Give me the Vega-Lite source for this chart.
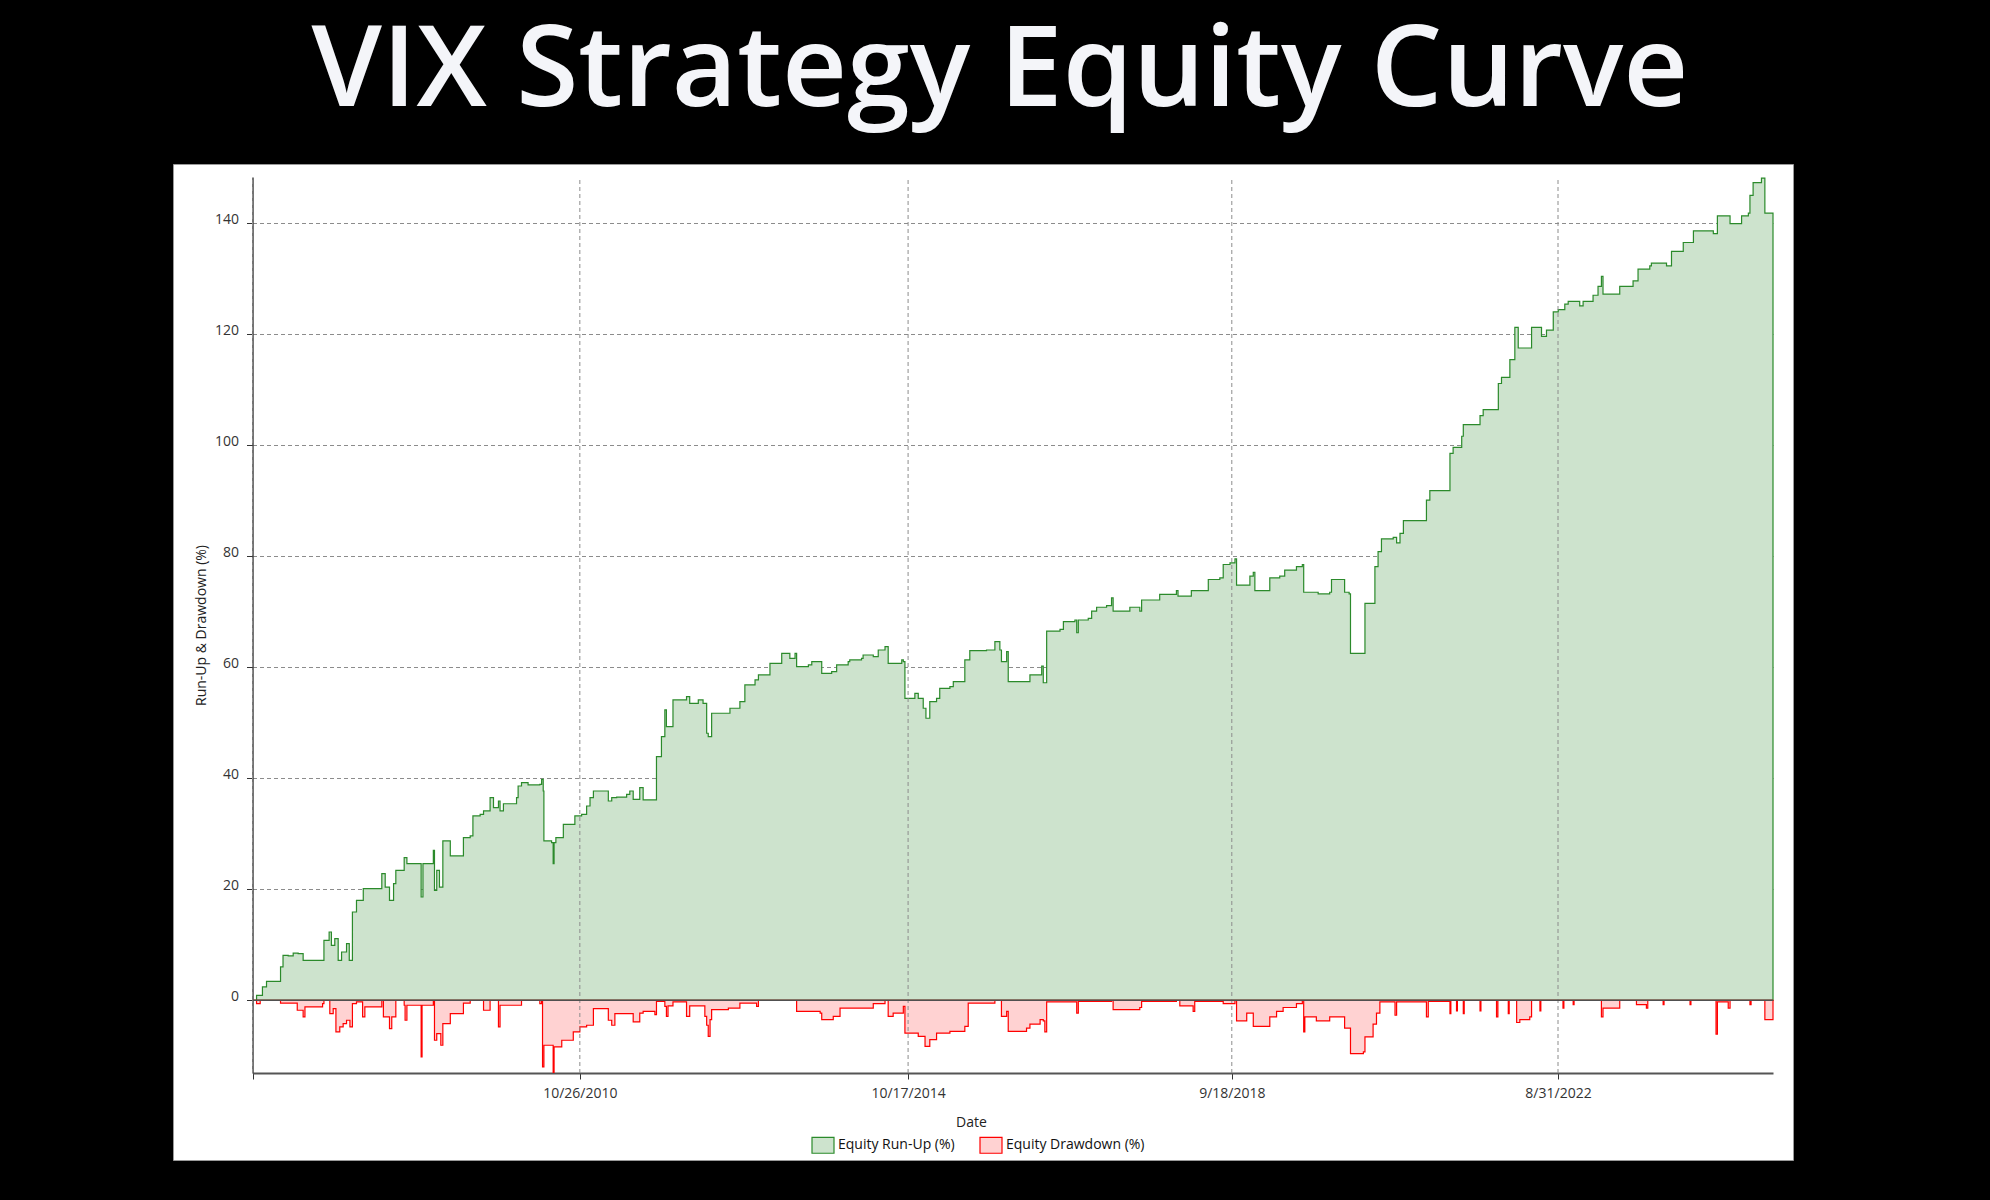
{
  "$schema": "https://vega.github.io/schema/vega-lite/v6.json",
  "width": 1620,
  "height": 996,
  "autosize": {"type": "none"},
  "padding": {"left": 173, "top": 164, "right": 197, "bottom": 40},
  "background": "black",
  "title": {
    "text": "VIX Strategy Equity Curve",
    "color": "#f4f5f9",
    "font": "Open Sans",
    "fontSize": 113,
    "fontWeight": 600,
    "anchor": "middle",
    "baseline": "alphabetic",
    "offset": -55,
    "dx": 17
  },
  "datasets": {
    "runup": [
      {"Date": "2006-11-08", "Value": 0},
      {"Date": "2006-11-26", "Value": 0.9},
      {"Date": "2006-12-22", "Value": 2.4},
      {"Date": "2007-01-09", "Value": 3.4},
      {"Date": "2007-03-12", "Value": 6.0},
      {"Date": "2007-03-23", "Value": 8.1},
      {"Date": "2007-04-15", "Value": 8.0},
      {"Date": "2007-05-07", "Value": 8.5},
      {"Date": "2007-05-29", "Value": 8.4},
      {"Date": "2007-06-20", "Value": 7.2},
      {"Date": "2007-09-20", "Value": 10.8},
      {"Date": "2007-10-13", "Value": 12.3},
      {"Date": "2007-10-23", "Value": 9.9},
      {"Date": "2007-11-07", "Value": 11.1},
      {"Date": "2007-11-22", "Value": 7.2},
      {"Date": "2007-12-07", "Value": 8.7},
      {"Date": "2007-12-29", "Value": 10.2},
      {"Date": "2008-01-10", "Value": 7.2},
      {"Date": "2008-01-24", "Value": 15.9},
      {"Date": "2008-02-11", "Value": 18.0},
      {"Date": "2008-03-12", "Value": 20.1},
      {"Date": "2008-06-02", "Value": 22.8},
      {"Date": "2008-06-17", "Value": 20.4},
      {"Date": "2008-07-06", "Value": 18.0},
      {"Date": "2008-07-24", "Value": 21.0},
      {"Date": "2008-08-03", "Value": 23.4},
      {"Date": "2008-09-09", "Value": 25.7},
      {"Date": "2008-09-21", "Value": 24.6},
      {"Date": "2008-11-23", "Value": 18.6},
      {"Date": "2008-12-01", "Value": 24.6},
      {"Date": "2009-01-16", "Value": 27.0},
      {"Date": "2009-01-21", "Value": 19.8},
      {"Date": "2009-01-31", "Value": 23.4},
      {"Date": "2009-02-12", "Value": 20.4},
      {"Date": "2009-02-27", "Value": 28.7},
      {"Date": "2009-04-01", "Value": 26.0},
      {"Date": "2009-05-29", "Value": 29.3},
      {"Date": "2009-06-28", "Value": 29.6},
      {"Date": "2009-07-10", "Value": 33.2},
      {"Date": "2009-08-11", "Value": 33.5},
      {"Date": "2009-08-26", "Value": 34.1},
      {"Date": "2009-09-24", "Value": 36.5},
      {"Date": "2009-10-09", "Value": 34.7},
      {"Date": "2009-10-31", "Value": 35.9},
      {"Date": "2009-11-07", "Value": 34.1},
      {"Date": "2009-11-22", "Value": 35.4},
      {"Date": "2010-01-19", "Value": 36.5},
      {"Date": "2010-01-26", "Value": 38.6},
      {"Date": "2010-02-10", "Value": 39.2},
      {"Date": "2010-03-11", "Value": 38.8},
      {"Date": "2010-05-02", "Value": 38.9},
      {"Date": "2010-05-10", "Value": 39.8},
      {"Date": "2010-05-17", "Value": 37.7},
      {"Date": "2010-05-20", "Value": 28.7},
      {"Date": "2010-06-23", "Value": 28.4},
      {"Date": "2010-06-30", "Value": 24.6},
      {"Date": "2010-07-04", "Value": 28.4},
      {"Date": "2010-07-12", "Value": 29.3},
      {"Date": "2010-08-14", "Value": 31.7},
      {"Date": "2010-10-04", "Value": 33.2},
      {"Date": "2010-11-03", "Value": 33.5},
      {"Date": "2010-11-25", "Value": 35.0},
      {"Date": "2010-12-10", "Value": 36.5},
      {"Date": "2010-12-25", "Value": 37.7},
      {"Date": "2011-03-01", "Value": 35.9},
      {"Date": "2011-03-16", "Value": 36.5},
      {"Date": "2011-04-07", "Value": 36.6},
      {"Date": "2011-05-21", "Value": 37.1},
      {"Date": "2011-06-04", "Value": 37.7},
      {"Date": "2011-06-19", "Value": 36.2},
      {"Date": "2011-07-18", "Value": 38.3},
      {"Date": "2011-08-02", "Value": 36.1},
      {"Date": "2011-09-30", "Value": 43.9},
      {"Date": "2011-10-22", "Value": 47.5},
      {"Date": "2011-11-06", "Value": 52.3},
      {"Date": "2011-11-13", "Value": 49.3},
      {"Date": "2011-12-12", "Value": 54.1},
      {"Date": "2012-02-10", "Value": 54.7},
      {"Date": "2012-02-24", "Value": 53.5},
      {"Date": "2012-04-02", "Value": 54.1},
      {"Date": "2012-04-23", "Value": 53.5},
      {"Date": "2012-05-09", "Value": 48.1},
      {"Date": "2012-05-16", "Value": 47.5},
      {"Date": "2012-05-31", "Value": 51.7},
      {"Date": "2012-08-20", "Value": 52.6},
      {"Date": "2012-10-03", "Value": 53.8},
      {"Date": "2012-10-25", "Value": 56.8},
      {"Date": "2012-12-09", "Value": 57.7},
      {"Date": "2012-12-24", "Value": 58.6},
      {"Date": "2013-02-13", "Value": 60.7},
      {"Date": "2013-04-06", "Value": 62.5},
      {"Date": "2013-05-12", "Value": 61.6},
      {"Date": "2013-06-04", "Value": 62.5},
      {"Date": "2013-06-11", "Value": 60.1},
      {"Date": "2013-08-02", "Value": 60.4},
      {"Date": "2013-08-17", "Value": 61.0},
      {"Date": "2013-09-30", "Value": 58.9},
      {"Date": "2013-11-13", "Value": 59.2},
      {"Date": "2013-12-05", "Value": 60.4},
      {"Date": "2014-01-25", "Value": 61.0},
      {"Date": "2014-02-01", "Value": 61.3},
      {"Date": "2014-03-25", "Value": 61.6},
      {"Date": "2014-04-01", "Value": 62.2},
      {"Date": "2014-05-16", "Value": 61.9},
      {"Date": "2014-06-07", "Value": 63.1},
      {"Date": "2014-07-07", "Value": 63.7},
      {"Date": "2014-07-21", "Value": 60.7},
      {"Date": "2014-09-19", "Value": 61.3},
      {"Date": "2014-09-26", "Value": 61.0},
      {"Date": "2014-10-03", "Value": 54.4},
      {"Date": "2014-11-16", "Value": 55.3},
      {"Date": "2014-12-01", "Value": 54.4},
      {"Date": "2014-12-23", "Value": 52.6},
      {"Date": "2015-01-04", "Value": 50.8},
      {"Date": "2015-01-21", "Value": 53.8},
      {"Date": "2015-02-20", "Value": 54.4},
      {"Date": "2015-03-06", "Value": 56.2},
      {"Date": "2015-04-20", "Value": 56.5},
      {"Date": "2015-05-05", "Value": 57.4},
      {"Date": "2015-06-25", "Value": 61.3},
      {"Date": "2015-07-17", "Value": 63.0},
      {"Date": "2015-09-29", "Value": 63.1},
      {"Date": "2015-11-05", "Value": 64.6},
      {"Date": "2015-11-27", "Value": 63.1},
      {"Date": "2015-12-04", "Value": 61.0},
      {"Date": "2015-12-27", "Value": 62.8},
      {"Date": "2016-01-03", "Value": 57.4},
      {"Date": "2016-04-08", "Value": 58.6},
      {"Date": "2016-05-30", "Value": 60.2},
      {"Date": "2016-06-06", "Value": 57.2},
      {"Date": "2016-06-21", "Value": 66.5},
      {"Date": "2016-08-19", "Value": 66.8},
      {"Date": "2016-09-03", "Value": 68.2},
      {"Date": "2016-10-24", "Value": 68.5},
      {"Date": "2016-11-01", "Value": 66.2},
      {"Date": "2016-11-08", "Value": 68.5},
      {"Date": "2016-12-22", "Value": 68.8},
      {"Date": "2017-01-06", "Value": 70.1},
      {"Date": "2017-01-28", "Value": 70.8},
      {"Date": "2017-03-13", "Value": 71.1},
      {"Date": "2017-04-04", "Value": 72.5},
      {"Date": "2017-04-11", "Value": 70.1},
      {"Date": "2017-06-24", "Value": 70.8},
      {"Date": "2017-08-07", "Value": 70.1},
      {"Date": "2017-08-15", "Value": 72.1},
      {"Date": "2017-11-03", "Value": 73.1},
      {"Date": "2018-01-16", "Value": 73.8},
      {"Date": "2018-01-23", "Value": 72.8},
      {"Date": "2018-03-23", "Value": 73.8},
      {"Date": "2018-06-06", "Value": 75.8},
      {"Date": "2018-07-27", "Value": 76.1},
      {"Date": "2018-08-11", "Value": 78.5},
      {"Date": "2018-09-10", "Value": 78.8},
      {"Date": "2018-10-02", "Value": 79.5},
      {"Date": "2018-10-09", "Value": 74.8},
      {"Date": "2018-12-07", "Value": 76.4},
      {"Date": "2018-12-22", "Value": 77.1},
      {"Date": "2018-12-29", "Value": 73.8},
      {"Date": "2019-03-05", "Value": 76.1},
      {"Date": "2019-04-18", "Value": 76.4},
      {"Date": "2019-05-10", "Value": 77.5},
      {"Date": "2019-07-01", "Value": 78.1},
      {"Date": "2019-07-27", "Value": 78.5},
      {"Date": "2019-08-02", "Value": 73.5},
      {"Date": "2019-10-05", "Value": 73.2},
      {"Date": "2019-11-25", "Value": 73.5},
      {"Date": "2019-12-03", "Value": 75.8},
      {"Date": "2020-01-30", "Value": 73.5},
      {"Date": "2020-02-19", "Value": 73.2},
      {"Date": "2020-02-25", "Value": 62.5},
      {"Date": "2020-04-29", "Value": 71.5},
      {"Date": "2020-06-12", "Value": 78.1},
      {"Date": "2020-06-26", "Value": 80.8},
      {"Date": "2020-07-11", "Value": 83.1},
      {"Date": "2020-09-01", "Value": 83.4},
      {"Date": "2020-09-16", "Value": 82.4},
      {"Date": "2020-10-01", "Value": 84.1},
      {"Date": "2020-10-16", "Value": 86.4},
      {"Date": "2021-01-26", "Value": 90.1},
      {"Date": "2021-02-10", "Value": 91.8},
      {"Date": "2021-05-10", "Value": 98.5},
      {"Date": "2021-05-24", "Value": 99.6},
      {"Date": "2021-07-01", "Value": 101.6},
      {"Date": "2021-07-08", "Value": 103.7},
      {"Date": "2021-09-20", "Value": 105.3},
      {"Date": "2021-10-04", "Value": 106.4},
      {"Date": "2021-12-10", "Value": 111.1},
      {"Date": "2021-12-24", "Value": 112.2},
      {"Date": "2022-01-30", "Value": 115.4},
      {"Date": "2022-02-21", "Value": 121.2},
      {"Date": "2022-03-08", "Value": 117.5},
      {"Date": "2022-05-06", "Value": 121.2},
      {"Date": "2022-06-19", "Value": 119.6},
      {"Date": "2022-07-11", "Value": 120.7},
      {"Date": "2022-08-10", "Value": 124.0},
      {"Date": "2022-09-01", "Value": 124.4},
      {"Date": "2022-09-30", "Value": 125.4},
      {"Date": "2022-10-15", "Value": 125.9},
      {"Date": "2022-12-05", "Value": 125.1},
      {"Date": "2022-12-20", "Value": 125.9},
      {"Date": "2023-02-02", "Value": 127.0},
      {"Date": "2023-02-24", "Value": 128.6},
      {"Date": "2023-03-11", "Value": 130.4},
      {"Date": "2023-03-18", "Value": 127.2},
      {"Date": "2023-05-31", "Value": 128.6},
      {"Date": "2023-07-29", "Value": 129.6},
      {"Date": "2023-08-20", "Value": 131.7},
      {"Date": "2023-10-11", "Value": 132.3},
      {"Date": "2023-10-18", "Value": 132.8},
      {"Date": "2023-12-24", "Value": 132.3},
      {"Date": "2024-01-15", "Value": 134.9},
      {"Date": "2024-03-07", "Value": 136.5},
      {"Date": "2024-04-21", "Value": 138.6},
      {"Date": "2024-07-18", "Value": 138.1},
      {"Date": "2024-08-05", "Value": 141.3},
      {"Date": "2024-09-30", "Value": 139.9},
      {"Date": "2024-11-20", "Value": 141.3},
      {"Date": "2024-12-20", "Value": 141.8},
      {"Date": "2024-12-27", "Value": 145.0},
      {"Date": "2025-01-10", "Value": 147.3},
      {"Date": "2025-02-16", "Value": 148.1},
      {"Date": "2025-03-03", "Value": 141.8},
      {"Date": "2025-04-08", "Value": 141.6}
    ],
    "drawdown": [
      {"Date": "2006-11-08", "Value": 0},
      {"Date": "2006-11-26", "Value": -0.6},
      {"Date": "2006-12-12", "Value": 0},
      {"Date": "2007-03-12", "Value": -0.5},
      {"Date": "2007-05-25", "Value": -1.8},
      {"Date": "2007-06-20", "Value": -3.0},
      {"Date": "2007-06-28", "Value": -1.2},
      {"Date": "2007-09-14", "Value": -0.6},
      {"Date": "2007-09-20", "Value": 0},
      {"Date": "2007-10-16", "Value": -2.4},
      {"Date": "2007-10-31", "Value": -1.5},
      {"Date": "2007-11-12", "Value": -5.7},
      {"Date": "2007-11-29", "Value": -4.8},
      {"Date": "2007-12-14", "Value": -4.2},
      {"Date": "2007-12-29", "Value": -3.6},
      {"Date": "2008-01-13", "Value": -4.8},
      {"Date": "2008-01-24", "Value": -0.6},
      {"Date": "2008-02-11", "Value": -0.3},
      {"Date": "2008-03-09", "Value": -3.0},
      {"Date": "2008-03-19", "Value": -1.2},
      {"Date": "2008-06-02", "Value": 0},
      {"Date": "2008-06-09", "Value": -3.0},
      {"Date": "2008-07-06", "Value": -5.1},
      {"Date": "2008-07-16", "Value": -3.0},
      {"Date": "2008-08-03", "Value": 0},
      {"Date": "2008-09-09", "Value": -0.9},
      {"Date": "2008-09-13", "Value": -3.6},
      {"Date": "2008-09-21", "Value": -0.9},
      {"Date": "2008-11-23", "Value": -10.2},
      {"Date": "2008-11-27", "Value": -0.9},
      {"Date": "2009-01-16", "Value": 0},
      {"Date": "2009-01-21", "Value": -7.2},
      {"Date": "2009-01-31", "Value": -6.0},
      {"Date": "2009-02-18", "Value": -8.1},
      {"Date": "2009-02-27", "Value": -4.2},
      {"Date": "2009-04-01", "Value": -2.4},
      {"Date": "2009-05-29", "Value": -0.5},
      {"Date": "2009-06-28", "Value": 0},
      {"Date": "2009-08-26", "Value": -1.8},
      {"Date": "2009-09-24", "Value": 0},
      {"Date": "2009-10-31", "Value": -4.8},
      {"Date": "2009-11-07", "Value": -0.9},
      {"Date": "2010-02-10", "Value": 0},
      {"Date": "2010-05-02", "Value": -0.6},
      {"Date": "2010-05-10", "Value": 0},
      {"Date": "2010-05-14", "Value": -12.0},
      {"Date": "2010-05-20", "Value": -8.1},
      {"Date": "2010-06-30", "Value": -13.0},
      {"Date": "2010-07-04", "Value": -8.4},
      {"Date": "2010-08-07", "Value": -7.2},
      {"Date": "2010-09-27", "Value": -5.7},
      {"Date": "2010-10-26", "Value": -4.8},
      {"Date": "2010-11-25", "Value": -4.5},
      {"Date": "2010-12-25", "Value": -1.5},
      {"Date": "2011-03-01", "Value": -3.6},
      {"Date": "2011-03-16", "Value": -4.5},
      {"Date": "2011-03-30", "Value": -2.4},
      {"Date": "2011-06-19", "Value": -3.9},
      {"Date": "2011-07-18", "Value": -2.3},
      {"Date": "2011-08-02", "Value": -2.0},
      {"Date": "2011-09-23", "Value": -2.6},
      {"Date": "2011-09-30", "Value": -0.2},
      {"Date": "2011-11-06", "Value": -1.1},
      {"Date": "2011-11-13", "Value": -2.9},
      {"Date": "2011-11-20", "Value": -1.0},
      {"Date": "2011-12-12", "Value": -0.3},
      {"Date": "2012-02-10", "Value": -2.9},
      {"Date": "2012-02-24", "Value": -1.0},
      {"Date": "2012-05-01", "Value": -2.9},
      {"Date": "2012-05-09", "Value": -4.5},
      {"Date": "2012-05-16", "Value": -6.5},
      {"Date": "2012-05-24", "Value": -3.5},
      {"Date": "2012-05-31", "Value": -1.7},
      {"Date": "2012-08-13", "Value": -1.4},
      {"Date": "2012-10-03", "Value": -0.5},
      {"Date": "2012-12-16", "Value": -1.1},
      {"Date": "2012-12-24", "Value": 0},
      {"Date": "2013-06-11", "Value": -2.0},
      {"Date": "2013-09-23", "Value": -2.3},
      {"Date": "2013-09-30", "Value": -3.5},
      {"Date": "2013-11-20", "Value": -2.9},
      {"Date": "2013-12-20", "Value": -1.4},
      {"Date": "2014-05-16", "Value": -0.6},
      {"Date": "2014-07-07", "Value": 0},
      {"Date": "2014-07-21", "Value": -2.9},
      {"Date": "2014-08-12", "Value": -2.3},
      {"Date": "2014-09-26", "Value": -1.1},
      {"Date": "2014-10-03", "Value": -5.9},
      {"Date": "2014-12-01", "Value": -6.5},
      {"Date": "2014-12-31", "Value": -8.3},
      {"Date": "2015-01-21", "Value": -7.1},
      {"Date": "2015-02-20", "Value": -5.9},
      {"Date": "2015-04-20", "Value": -5.6},
      {"Date": "2015-06-25", "Value": -4.7},
      {"Date": "2015-07-10", "Value": -0.5},
      {"Date": "2015-11-05", "Value": 0},
      {"Date": "2015-12-04", "Value": -2.9},
      {"Date": "2015-12-27", "Value": -2.0},
      {"Date": "2016-01-03", "Value": -5.6},
      {"Date": "2016-03-24", "Value": -5.0},
      {"Date": "2016-04-08", "Value": -4.3},
      {"Date": "2016-05-23", "Value": -3.5},
      {"Date": "2016-06-06", "Value": -3.7},
      {"Date": "2016-06-13", "Value": -5.7},
      {"Date": "2016-06-21", "Value": -0.3},
      {"Date": "2016-11-01", "Value": -2.3},
      {"Date": "2016-11-08", "Value": -0.2},
      {"Date": "2017-04-04", "Value": 0},
      {"Date": "2017-04-11", "Value": -1.7},
      {"Date": "2017-08-07", "Value": -1.3},
      {"Date": "2017-08-15", "Value": -0.2},
      {"Date": "2018-01-16", "Value": 0},
      {"Date": "2018-01-31", "Value": -1.0},
      {"Date": "2018-03-31", "Value": -2.0},
      {"Date": "2018-04-07", "Value": -0.2},
      {"Date": "2018-08-11", "Value": -0.6},
      {"Date": "2018-10-02", "Value": 0},
      {"Date": "2018-10-09", "Value": -3.7},
      {"Date": "2018-11-23", "Value": -2.3},
      {"Date": "2018-12-22", "Value": -4.7},
      {"Date": "2019-03-05", "Value": -3.0},
      {"Date": "2019-04-04", "Value": -2.0},
      {"Date": "2019-05-03", "Value": -1.3},
      {"Date": "2019-07-01", "Value": -0.6},
      {"Date": "2019-07-27", "Value": 0},
      {"Date": "2019-08-02", "Value": -5.7},
      {"Date": "2019-08-07", "Value": -3.0},
      {"Date": "2019-09-27", "Value": -3.7},
      {"Date": "2019-11-25", "Value": -3.0},
      {"Date": "2020-01-30", "Value": -5.0},
      {"Date": "2020-02-25", "Value": -9.6},
      {"Date": "2020-04-22", "Value": -9.3},
      {"Date": "2020-04-29", "Value": -6.6},
      {"Date": "2020-06-04", "Value": -4.3},
      {"Date": "2020-06-19", "Value": -2.3},
      {"Date": "2020-07-04", "Value": -0.3},
      {"Date": "2020-09-09", "Value": -2.7},
      {"Date": "2020-09-16", "Value": -0.3},
      {"Date": "2021-01-26", "Value": -3.0},
      {"Date": "2021-02-03", "Value": -0.2},
      {"Date": "2021-05-10", "Value": -2.4},
      {"Date": "2021-05-14", "Value": 0},
      {"Date": "2021-06-08", "Value": -1.9},
      {"Date": "2021-06-12", "Value": 0},
      {"Date": "2021-07-08", "Value": -2.4},
      {"Date": "2021-07-12", "Value": 0},
      {"Date": "2021-09-20", "Value": -1.9},
      {"Date": "2021-09-24", "Value": 0},
      {"Date": "2021-12-02", "Value": -3.0},
      {"Date": "2021-12-08", "Value": 0},
      {"Date": "2022-01-23", "Value": -2.4},
      {"Date": "2022-01-27", "Value": 0},
      {"Date": "2022-03-01", "Value": -4.0},
      {"Date": "2022-03-15", "Value": -3.5},
      {"Date": "2022-04-28", "Value": -3.0},
      {"Date": "2022-05-06", "Value": 0},
      {"Date": "2022-06-12", "Value": -1.9},
      {"Date": "2022-06-16", "Value": 0},
      {"Date": "2022-09-22", "Value": -1.4},
      {"Date": "2022-09-26", "Value": 0},
      {"Date": "2022-11-06", "Value": -0.8},
      {"Date": "2022-11-10", "Value": 0},
      {"Date": "2023-03-11", "Value": -3.0},
      {"Date": "2023-03-18", "Value": -1.4},
      {"Date": "2023-05-31", "Value": 0},
      {"Date": "2023-08-13", "Value": -0.8},
      {"Date": "2023-09-26", "Value": -1.4},
      {"Date": "2023-10-02", "Value": 0},
      {"Date": "2023-12-09", "Value": -0.8},
      {"Date": "2023-12-13", "Value": 0},
      {"Date": "2024-04-06", "Value": -0.8},
      {"Date": "2024-04-10", "Value": 0},
      {"Date": "2024-07-30", "Value": -6.1},
      {"Date": "2024-08-05", "Value": -0.3},
      {"Date": "2024-09-22", "Value": -1.4},
      {"Date": "2024-09-30", "Value": 0},
      {"Date": "2024-12-27", "Value": -0.8},
      {"Date": "2025-01-01", "Value": 0},
      {"Date": "2025-03-03", "Value": -3.5},
      {"Date": "2025-04-08", "Value": -3.0}
    ],
    "dateTicks": [
      {"Date": "2006-11-08"},
      {"Date": "2010-10-26"},
      {"Date": "2014-10-17"},
      {"Date": "2018-09-18"},
      {"Date": "2022-08-31"}
    ]
  },
  "layer": [
    {
      "data": {"name": "runup"},
      "mark": {"type": "area", "interpolate": "step-after", "strokeWidth": 1.2},
      "encoding": {
        "x": {
          "field": "Date",
          "type": "temporal",
          "scale": {
            "domain": [
              {"year": 2006, "month": 11, "date": 8},
              {"year": 2025, "month": 4, "date": 8}
            ],
            "range": [79.5, 1600]
          },
          "axis": {
            "values": [
              {"year": 2006, "month": 11, "date": 8},
              {"year": 2010, "month": 10, "date": 26},
              {"year": 2014, "month": 10, "date": 17},
              {"year": 2018, "month": 9, "date": 18},
              {"year": 2022, "month": 8, "date": 31}
            ],
            "format": "%-m/%-d/%Y",
            "labelExpr": "year(datum.value) < 2007 ? '' : datum.label",
            "title": "Date",
            "grid": false,
            "offset": -87,
            "titleX": 798,
            "titlePadding": 15,
            "labelPadding": 7,
            "domainWidth": 2,
            "domainColor": "#555555",
            "labelFlush": false,
            "labelOverlap": false
          }
        },
        "y": {
          "field": "Value",
          "type": "quantitative",
          "scale": {"domain": [-13.1, 148.3], "range": [909, 13], "nice": false, "zero": false},
          "axis": {
            "values": [0, 20, 40, 60, 80, 100, 120, 140],
            "title": "Run-Up & Drawdown (%)",
            "offset": -79.5,
            "labelBaseline": "alphabetic",
            "labelPadding": 8,
            "titlePadding": 6,
            "domainWidth": 1.5,
            "domainColor": "#444444"
          }
        },
        "color": {
          "datum": "Equity Run-Up (%)",
          "type": "nominal",
          "scale": {
            "domain": ["Equity Run-Up (%)", "Equity Drawdown (%)"],
            "range": ["#cde3cd", "#ffd2d2"]
          },
          "legend": {
            "orient": "none",
            "legendX": 638,
            "legendY": 969,
            "direction": "horizontal",
            "title": null,
            "padding": 0,
            "symbolType": "M-1,-0.72H1V0.72H-1Z",
            "symbolSize": 484,
            "symbolStrokeWidth": 1.2,
            "labelFont": "Open Sans",
            "labelFontSize": 14,
            "labelColor": "#111111",
            "labelOffset": 3,
            "columnPadding": 22
          }
        },
        "stroke": {
          "datum": "Equity Run-Up (%)",
          "type": "nominal",
          "scale": {
            "domain": ["Equity Run-Up (%)", "Equity Drawdown (%)"],
            "range": ["#2b8a2b", "#ff0000"]
          },
          "legend": null
        }
      }
    },
    {
      "data": {"name": "drawdown"},
      "mark": {"type": "area", "interpolate": "step-after", "strokeWidth": 1.2},
      "encoding": {
        "x": {"field": "Date", "type": "temporal"},
        "y": {"field": "Value", "type": "quantitative"},
        "color": {"datum": "Equity Drawdown (%)", "type": "nominal"},
        "stroke": {"datum": "Equity Drawdown (%)", "type": "nominal"}
      }
    },
    {
      "data": {"name": "dateTicks"},
      "mark": {"type": "rule", "color": "#8c8c8c", "strokeWidth": 1, "strokeDash": [4, 3]},
      "encoding": {
        "x": {"field": "Date", "type": "temporal"},
        "y": {"datum": -13.1, "type": "quantitative"},
        "y2": {"datum": 148.3}
      }
    },
    {
      "data": {"values": [{}]},
      "mark": {"type": "rule", "color": "#505050", "strokeWidth": 1.5},
      "encoding": {
        "x": {"datum": {"year": 2006, "month": 11, "date": 8}, "type": "temporal"},
        "x2": {"datum": {"year": 2025, "month": 4, "date": 8}},
        "y": {"datum": 0, "type": "quantitative"}
      }
    }
  ],
  "config": {
    "font": "Open Sans",
    "view": {"fill": "white", "stroke": "#9a9a9a", "strokeWidth": 1},
    "axis": {
      "grid": true,
      "gridDash": [4, 3],
      "gridColor": "#8c8c8c",
      "gridWidth": 1,
      "zindex": 1,
      "ticks": true,
      "tickSize": 6,
      "tickColor": "#333333",
      "labelFont": "Open Sans",
      "labelFontSize": 14,
      "labelColor": "#333333",
      "titleFont": "Open Sans",
      "titleFontSize": 14,
      "titleFontWeight": "normal",
      "titleColor": "#222222"
    }
  }
}
